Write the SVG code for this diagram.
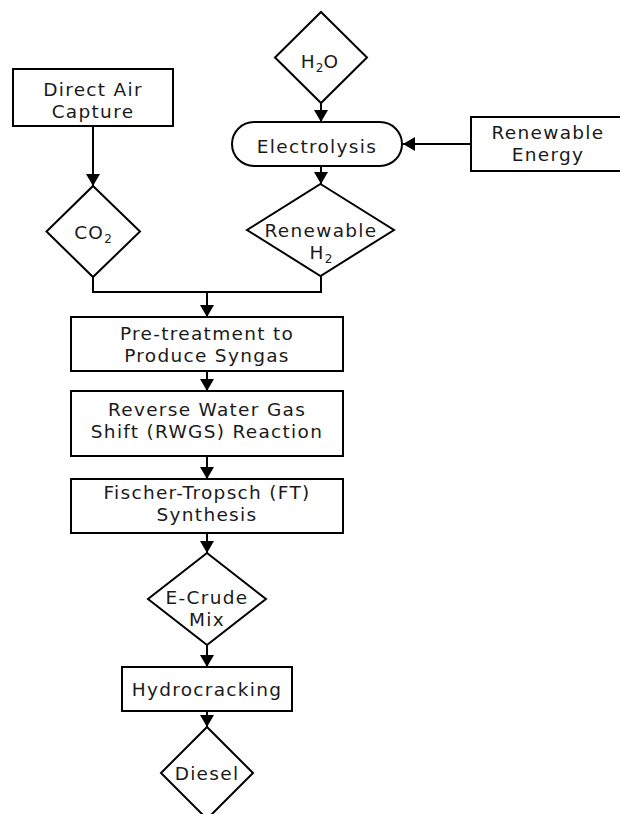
<svg xmlns="http://www.w3.org/2000/svg" width="620" height="814" viewBox="0 0 620 814">
<style>
.shape{fill:#fff;stroke:#000;stroke-width:2}
.lbl{font-family:"DejaVu Sans",sans-serif;font-size:18.5px;letter-spacing:1.3px;fill:#1a1a1a;text-anchor:middle}
.sub{font-size:12px;letter-spacing:0}
.conn{fill:none;stroke:#000;stroke-width:2}
</style>
<defs>
<marker id="arr" markerUnits="userSpaceOnUse" markerWidth="14" markerHeight="14" viewBox="0 0 12 14" refX="12" refY="7" orient="auto">
<path d="M0,0 L12,7 L0,14 Z" fill="#000"/>
</marker>
</defs>
<rect width="620" height="814" fill="#fff"/>
<g id="connectors">
<line class="conn" x1="93" y1="126" x2="93" y2="186" marker-end="url(#arr)"/>
<line class="conn" x1="321" y1="103" x2="321" y2="122" marker-end="url(#arr)"/>
<line class="conn" x1="471" y1="144" x2="403" y2="144" marker-end="url(#arr)"/>
<line class="conn" x1="321" y1="166" x2="321" y2="184" marker-end="url(#arr)"/>
<polyline class="conn" points="93,277 93,292 321,292 321,276"/>
<line class="conn" x1="207" y1="292" x2="207" y2="317" marker-end="url(#arr)"/>
<line class="conn" x1="207" y1="371" x2="207" y2="391" marker-end="url(#arr)"/>
<line class="conn" x1="207" y1="456" x2="207" y2="479" marker-end="url(#arr)"/>
<line class="conn" x1="207" y1="533" x2="207" y2="553" marker-end="url(#arr)"/>
<line class="conn" x1="207" y1="645" x2="207" y2="667" marker-end="url(#arr)"/>
<line class="conn" x1="207" y1="711" x2="207" y2="727" marker-end="url(#arr)"/>
</g>
<g id="h2o">
<polygon class="shape" points="321,12 367,57.5 321,103 275,57.5"/>
<text class="lbl" x="320" y="68">H<tspan class="sub" dy="4">2</tspan><tspan dy="-4">O</tspan></text>
</g>
<g id="dac">
<rect class="shape" x="13" y="69" width="160" height="57"/>
<text class="lbl" x="93" y="96">Direct Air</text>
<text class="lbl" x="93" y="118">Capture</text>
</g>
<g id="electrolysis">
<rect class="shape" x="232" y="122" width="170" height="44" rx="22" ry="22"/>
<text class="lbl" x="317" y="153">Electrolysis</text>
</g>
<g id="renewable-energy">
<rect class="shape" x="471" y="117" width="156" height="54"/>
<text class="lbl" x="548" y="139">Renewable</text>
<text class="lbl" x="548" y="161">Energy</text>
</g>
<g id="co2">
<polygon class="shape" points="93,186 140,231.5 93,277 46.5,231.5"/>
<text class="lbl" x="93" y="239">CO<tspan class="sub" dy="4">2</tspan></text>
</g>
<g id="renewable-h2">
<polygon class="shape" points="320.5,184 394,230 320.5,276 247,230"/>
<text class="lbl" x="321" y="237">Renewable</text>
<text class="lbl" x="321" y="259">H<tspan class="sub" dy="4">2</tspan></text>
</g>
<g id="pretreatment">
<rect class="shape" x="71" y="317" width="272" height="54"/>
<text class="lbl" x="207" y="340">Pre-treatment to</text>
<text class="lbl" x="207" y="362">Produce Syngas</text>
</g>
<g id="rwgs">
<rect class="shape" x="71" y="391" width="272" height="65"/>
<text class="lbl" x="207" y="416">Reverse Water Gas</text>
<text class="lbl" x="207" y="438">Shift (RWGS) Reaction</text>
</g>
<g id="ft">
<rect class="shape" x="71" y="479" width="272" height="54"/>
<text class="lbl" x="207" y="499">Fischer-Tropsch (FT)</text>
<text class="lbl" x="207" y="521">Synthesis</text>
</g>
<g id="ecrude">
<polygon class="shape" points="207,553 266,599 207,645 148,599"/>
<text class="lbl" x="207" y="604">E-Crude</text>
<text class="lbl" x="207" y="626">Mix</text>
</g>
<g id="hydrocracking">
<rect class="shape" x="122" y="667" width="170" height="44"/>
<text class="lbl" x="207" y="696">Hydrocracking</text>
</g>
<g id="diesel">
<polygon class="shape" points="207,727 253,773 207,819 161,773"/>
<text class="lbl" x="207" y="780">Diesel</text>
</g>
</svg>
